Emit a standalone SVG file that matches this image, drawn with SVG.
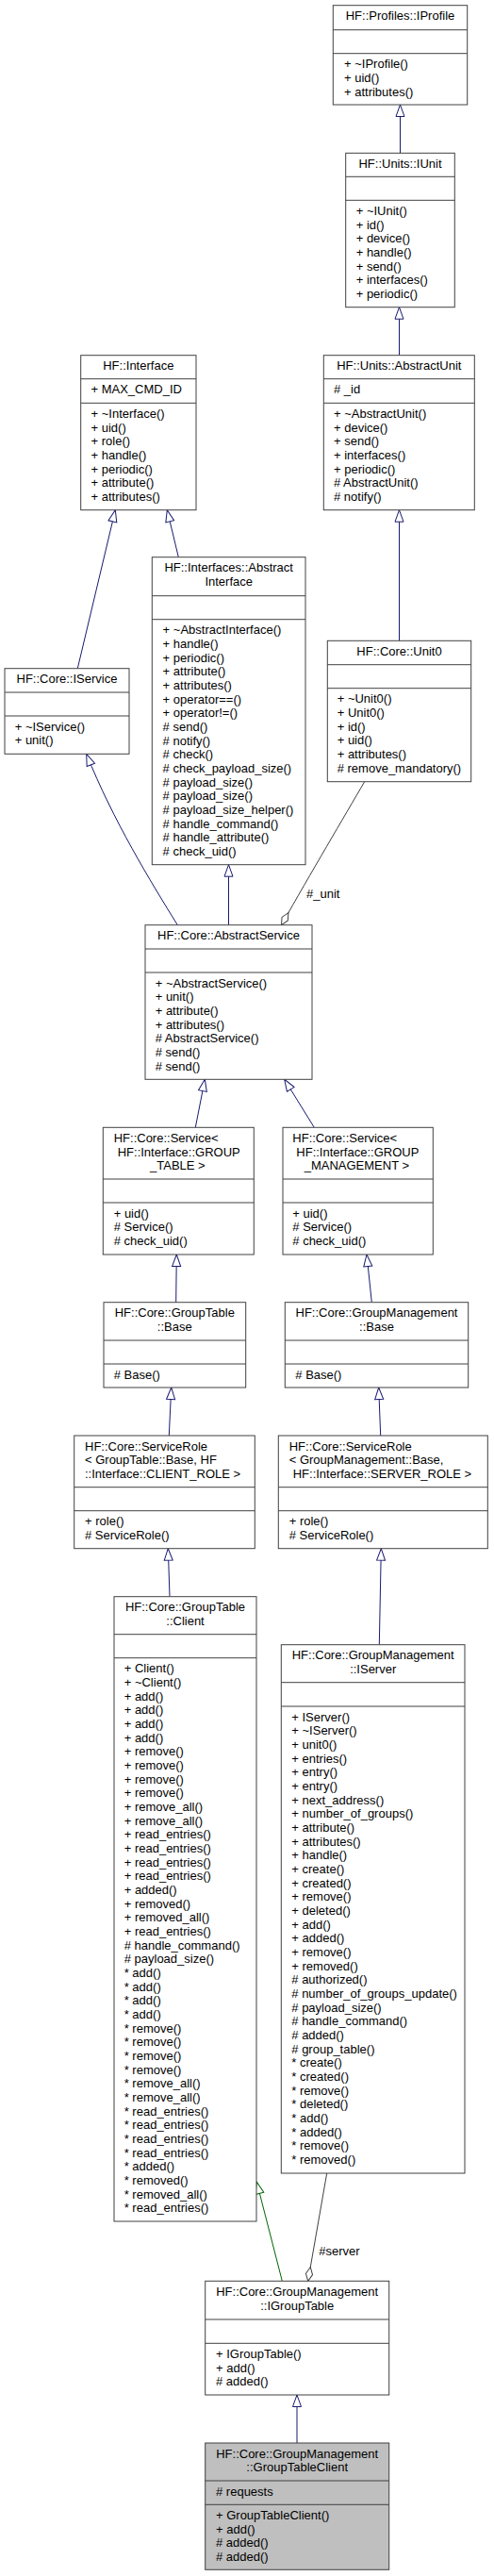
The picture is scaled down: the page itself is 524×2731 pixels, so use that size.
<svg xmlns="http://www.w3.org/2000/svg" width="524" height="2731" viewBox="0 0 524 2731">
<style>
.box{fill:#fff;stroke:#404040;stroke-width:1}
.sel{fill:#bfbfbf;stroke:#404040;stroke-width:1}
.sep{stroke:#404040;stroke-width:1}
text{font-family:"Liberation Sans",Arial,Helvetica,sans-serif;font-size:13px;fill:#000}
.c{text-anchor:middle}
.inh{fill:none;stroke:#191970;stroke-width:1;marker-end:url(#mInh)}
.prot{fill:none;stroke:#006400;stroke-width:1;marker-end:url(#mProt)}
.use{fill:none;stroke:#404040;stroke-width:1;marker-end:url(#mAgg)}
</style>
<defs>
<marker id="mInh" markerUnits="userSpaceOnUse" markerWidth="14" markerHeight="10" refX="13" refY="4.7" orient="auto" overflow="visible"><path d="M0.5,0.2 L13,4.7 L0.5,9.2 z" fill="#fff" stroke="#191970" stroke-width="1"/></marker>
<marker id="mProt" markerUnits="userSpaceOnUse" markerWidth="14" markerHeight="10" refX="13" refY="4.7" orient="auto" overflow="visible"><path d="M0.5,0.2 L13,4.7 L0.5,9.2 z" fill="#fff" stroke="#006400" stroke-width="1"/></marker>
<marker id="mAgg" markerUnits="userSpaceOnUse" markerWidth="16" markerHeight="8" refX="15" refY="3.6" orient="auto" overflow="visible"><path d="M0,3.6 L7.5,0 L15,3.6 L7.5,7.2 z" fill="#fff" stroke="#404040" stroke-width="1"/></marker>
</defs>
<rect x="0" y="0" width="524" height="2731" fill="#fff"/>

<g id="edges">
<path class="inh" d="M424.5,162.3 L424.5,111"/>
<path class="inh" d="M423.5,376.7 L423.5,325.7"/>
<path class="inh" d="M423.5,679.3 L423.5,540.7"/>
<path class="inh" d="M82.3,708.7 L122.3,540.7"/>
<path class="inh" d="M189.3,590.7 L177.3,540.7"/>
<path class="inh" d="M188.3,980.7 C160,935 120,870 91.7,799.3"/>
<path class="inh" d="M242.5,980.7 L242.5,916.7"/>
<path class="use" d="M386.7,828.7 C365,866 330,925 298.5,980.7"/>
<text x="325" y="951.5">#_unit</text>
<path class="inh" d="M207.3,1195.3 L217.3,1144.3"/>
<path class="inh" d="M333.3,1195.3 L301.7,1144.3"/>
<path class="inh" d="M186.7,1380.7 L187.3,1330"/>
<path class="inh" d="M394.3,1380.7 L389,1330"/>
<path class="inh" d="M179.3,1522 L181.7,1471"/>
<path class="inh" d="M403.7,1522 L401.7,1471"/>
<path class="inh" d="M180,1692.7 L178.3,1641.7"/>
<path class="inh" d="M402.3,1743.7 L404.3,1641.7"/>
<path class="prot" d="M299.3,2418.3 L272.3,2313.3"/>
<path class="use" d="M346.7,2304 L326.7,2418.3"/>
<text x="338.3" y="2391">#server</text>
<path class="inh" d="M315,2590 L315,2539"/>
</g>

<g id="IProfile">
<rect class="box" x="353.3" y="5.7" width="142.4" height="105.3"/>
<line class="sep" x1="353.3" y1="31.7" x2="495.7" y2="31.7"/>
<line class="sep" x1="353.3" y1="56.7" x2="495.7" y2="56.7"/>
<text class="c" x="424.5" y="21.3">HF::Profiles::IProfile</text>
<text y="72.3"><tspan x="365">+ ~IProfile()</tspan><tspan x="365" dy="14.67">+ uid()</tspan><tspan x="365" dy="14.67">+ attributes()</tspan></text>
</g>

<g id="IUnit">
<rect class="box" x="366.7" y="162.3" width="115.6" height="163.4"/>
<line class="sep" x1="366.7" y1="187.3" x2="482.3" y2="187.3"/>
<line class="sep" x1="366.7" y1="212.3" x2="482.3" y2="212.3"/>
<text class="c" x="424.5" y="177.9">HF::Units::IUnit</text>
<text y="227.9"><tspan x="377.7">+ ~IUnit()</tspan><tspan x="377.7" dy="14.67">+ id()</tspan><tspan x="377.7" dy="14.67">+ device()</tspan><tspan x="377.7" dy="14.67">+ handle()</tspan><tspan x="377.7" dy="14.67">+ send()</tspan><tspan x="377.7" dy="14.67">+ interfaces()</tspan><tspan x="377.7" dy="14.67">+ periodic()</tspan></text>
</g>

<g id="Interface">
<rect class="box" x="85.7" y="376.7" width="122.3" height="164"/>
<line class="sep" x1="85.7" y1="401.7" x2="208" y2="401.7"/>
<line class="sep" x1="85.7" y1="427.3" x2="208" y2="427.3"/>
<text class="c" x="146.8" y="392.3">HF::Interface</text>
<text x="96.5" y="417.3">+ MAX_CMD_ID</text>
<text y="442.9"><tspan x="96.5">+ ~Interface()</tspan><tspan x="96.5" dy="14.67">+ uid()</tspan><tspan x="96.5" dy="14.67">+ role()</tspan><tspan x="96.5" dy="14.67">+ handle()</tspan><tspan x="96.5" dy="14.67">+ periodic()</tspan><tspan x="96.5" dy="14.67">+ attribute()</tspan><tspan x="96.5" dy="14.67">+ attributes()</tspan></text>
</g>

<g id="AbstractUnit">
<rect class="box" x="343.3" y="376.7" width="160" height="164"/>
<line class="sep" x1="343.3" y1="401.7" x2="503.3" y2="401.7"/>
<line class="sep" x1="343.3" y1="427.3" x2="503.3" y2="427.3"/>
<text class="c" x="423.3" y="392.3">HF::Units::AbstractUnit</text>
<text x="354" y="417.3"># _id</text>
<text y="442.9"><tspan x="354">+ ~AbstractUnit()</tspan><tspan x="354" dy="14.67">+ device()</tspan><tspan x="354" dy="14.67">+ send()</tspan><tspan x="354" dy="14.67">+ interfaces()</tspan><tspan x="354" dy="14.67">+ periodic()</tspan><tspan x="354" dy="14.67"># AbstractUnit()</tspan><tspan x="354" dy="14.67"># notify()</tspan></text>
</g>

<g id="AbstractInterface">
<rect class="box" x="161.3" y="590.7" width="162.7" height="326"/>
<line class="sep" x1="161.3" y1="631.7" x2="324" y2="631.7"/>
<line class="sep" x1="161.3" y1="656.7" x2="324" y2="656.7"/>
<text class="c" x="242.7" y="606.3">HF::Interfaces::Abstract</text>
<text class="c" x="242.7" y="621">Interface</text>
<text y="672.3"><tspan x="172.6">+ ~AbstractInterface()</tspan><tspan x="172.6" dy="14.67">+ handle()</tspan><tspan x="172.6" dy="14.67">+ periodic()</tspan><tspan x="172.6" dy="14.67">+ attribute()</tspan><tspan x="172.6" dy="14.67">+ attributes()</tspan><tspan x="172.6" dy="14.67">+ operator==()</tspan><tspan x="172.6" dy="14.67">+ operator!=()</tspan><tspan x="172.6" dy="14.67"># send()</tspan><tspan x="172.6" dy="14.67"># notify()</tspan><tspan x="172.6" dy="14.67"># check()</tspan><tspan x="172.6" dy="14.67"># check_payload_size()</tspan><tspan x="172.6" dy="14.67"># payload_size()</tspan><tspan x="172.6" dy="14.67"># payload_size()</tspan><tspan x="172.6" dy="14.67"># payload_size_helper()</tspan><tspan x="172.6" dy="14.67"># handle_command()</tspan><tspan x="172.6" dy="14.67"># handle_attribute()</tspan><tspan x="172.6" dy="14.67"># check_uid()</tspan></text>
</g>

<g id="IService">
<rect class="box" x="5" y="708.7" width="132" height="90.6"/>
<line class="sep" x1="5" y1="734" x2="137" y2="734"/>
<line class="sep" x1="5" y1="759" x2="137" y2="759"/>
<text class="c" x="71" y="724.3">HF::Core::IService</text>
<text y="774.6"><tspan x="15.7">+ ~IService()</tspan><tspan x="15.7" dy="14.67">+ unit()</tspan></text>
</g>

<g id="Unit0">
<rect class="box" x="347.3" y="679.3" width="152.4" height="149.4"/>
<line class="sep" x1="347.3" y1="704.7" x2="499.7" y2="704.7"/>
<line class="sep" x1="347.3" y1="729.7" x2="499.7" y2="729.7"/>
<text class="c" x="423.5" y="694.9">HF::Core::Unit0</text>
<text y="745.3"><tspan x="357.7">+ ~Unit0()</tspan><tspan x="357.7" dy="14.67">+ Unit0()</tspan><tspan x="357.7" dy="14.67">+ id()</tspan><tspan x="357.7" dy="14.67">+ uid()</tspan><tspan x="357.7" dy="14.67">+ attributes()</tspan><tspan x="357.7" dy="14.67"># remove_mandatory()</tspan></text>
</g>

<g id="AbstractService">
<rect class="box" x="154" y="980.7" width="177" height="163.6"/>
<line class="sep" x1="154" y1="1006" x2="331" y2="1006"/>
<line class="sep" x1="154" y1="1031" x2="331" y2="1031"/>
<text class="c" x="242.5" y="996.3">HF::Core::AbstractService</text>
<text y="1046.6"><tspan x="164.7">+ ~AbstractService()</tspan><tspan x="164.7" dy="14.67">+ unit()</tspan><tspan x="164.7" dy="14.67">+ attribute()</tspan><tspan x="164.7" dy="14.67">+ attributes()</tspan><tspan x="164.7" dy="14.67"># AbstractService()</tspan><tspan x="164.7" dy="14.67"># send()</tspan><tspan x="164.7" dy="14.67"># send()</tspan></text>
</g>

<g id="ServiceGroupTable">
<rect class="box" x="109.3" y="1195.3" width="160" height="134.7"/>
<line class="sep" x1="109.3" y1="1250" x2="269.3" y2="1250"/>
<line class="sep" x1="109.3" y1="1275" x2="269.3" y2="1275"/>
<text x="120.7" y="1210.9">HF::Core::Service&lt;</text>
<text x="124.7" y="1225.6">HF::Interface::GROUP</text>
<text x="159" y="1240.3">_TABLE &gt;</text>
<text y="1290.6"><tspan x="120.7">+ uid()</tspan><tspan x="120.7" dy="14.67"># Service()</tspan><tspan x="120.7" dy="14.67"># check_uid()</tspan></text>
</g>

<g id="ServiceGroupManagement">
<rect class="box" x="300" y="1195.3" width="159.3" height="134.7"/>
<line class="sep" x1="300" y1="1250" x2="459.3" y2="1250"/>
<line class="sep" x1="300" y1="1275" x2="459.3" y2="1275"/>
<text x="310.3" y="1210.9">HF::Core::Service&lt;</text>
<text x="314.3" y="1225.6">HF::Interface::GROUP</text>
<text x="322.7" y="1240.3">_MANAGEMENT &gt;</text>
<text y="1290.6"><tspan x="310.3">+ uid()</tspan><tspan x="310.3" dy="14.67"># Service()</tspan><tspan x="310.3" dy="14.67"># check_uid()</tspan></text>
</g>

<g id="GroupTableBase">
<rect class="box" x="110" y="1380.7" width="150.7" height="90.3"/>
<line class="sep" x1="110" y1="1421" x2="260.7" y2="1421"/>
<line class="sep" x1="110" y1="1446" x2="260.7" y2="1446"/>
<text class="c" x="185.3" y="1396.3">HF::Core::GroupTable</text>
<text class="c" x="185.3" y="1411">::Base</text>
<text x="120.7" y="1461.6"># Base()</text>
</g>

<g id="GroupManagementBase">
<rect class="box" x="302.3" y="1380.7" width="194.4" height="90.3"/>
<line class="sep" x1="302.3" y1="1421" x2="496.7" y2="1421"/>
<line class="sep" x1="302.3" y1="1446" x2="496.7" y2="1446"/>
<text class="c" x="399.5" y="1396.3">HF::Core::GroupManagement</text>
<text class="c" x="399.5" y="1411">::Base</text>
<text x="313.3" y="1461.6"># Base()</text>
</g>

<g id="ServiceRoleClient">
<rect class="box" x="78.7" y="1522" width="191.6" height="119.7"/>
<line class="sep" x1="78.7" y1="1576.7" x2="270.3" y2="1576.7"/>
<line class="sep" x1="78.7" y1="1601.7" x2="270.3" y2="1601.7"/>
<text x="90" y="1537.6">HF::Core::ServiceRole</text>
<text x="90" y="1552.3">&lt; GroupTable::Base, HF</text>
<text x="90" y="1567">::Interface::CLIENT_ROLE &gt;</text>
<text y="1617.3"><tspan x="90">+ role()</tspan><tspan x="90" dy="14.67"># ServiceRole()</tspan></text>
</g>

<g id="ServiceRoleServer">
<rect class="box" x="295.3" y="1522" width="222" height="119.7"/>
<line class="sep" x1="295.3" y1="1576.7" x2="517.3" y2="1576.7"/>
<line class="sep" x1="295.3" y1="1601.7" x2="517.3" y2="1601.7"/>
<text x="306.7" y="1537.6">HF::Core::ServiceRole</text>
<text x="306.7" y="1552.3">&lt; GroupManagement::Base,</text>
<text x="310.7" y="1567">HF::Interface::SERVER_ROLE &gt;</text>
<text y="1617.3"><tspan x="306.7">+ role()</tspan><tspan x="306.7" dy="14.67"># ServiceRole()</tspan></text>
</g>

<g id="GroupTableClientBase">
<rect class="box" x="121" y="1692.7" width="151" height="662.3"/>
<line class="sep" x1="121" y1="1732.7" x2="272" y2="1732.7"/>
<line class="sep" x1="121" y1="1757.7" x2="272" y2="1757.7"/>
<text class="c" x="196.5" y="1708.3">HF::Core::GroupTable</text>
<text class="c" x="196.5" y="1723">::Client</text>
<text y="1773.3"><tspan x="131.7">+ Client()</tspan><tspan x="131.7" dy="14.67">+ ~Client()</tspan><tspan x="131.7" dy="14.67">+ add()</tspan><tspan x="131.7" dy="14.67">+ add()</tspan><tspan x="131.7" dy="14.67">+ add()</tspan><tspan x="131.7" dy="14.67">+ add()</tspan><tspan x="131.7" dy="14.67">+ remove()</tspan><tspan x="131.7" dy="14.67">+ remove()</tspan><tspan x="131.7" dy="14.67">+ remove()</tspan><tspan x="131.7" dy="14.67">+ remove()</tspan><tspan x="131.7" dy="14.67">+ remove_all()</tspan><tspan x="131.7" dy="14.67">+ remove_all()</tspan><tspan x="131.7" dy="14.67">+ read_entries()</tspan><tspan x="131.7" dy="14.67">+ read_entries()</tspan><tspan x="131.7" dy="14.67">+ read_entries()</tspan><tspan x="131.7" dy="14.67">+ read_entries()</tspan><tspan x="131.7" dy="14.67">+ added()</tspan><tspan x="131.7" dy="14.67">+ removed()</tspan><tspan x="131.7" dy="14.67">+ removed_all()</tspan><tspan x="131.7" dy="14.67">+ read_entries()</tspan><tspan x="131.7" dy="14.67"># handle_command()</tspan><tspan x="131.7" dy="14.67"># payload_size()</tspan><tspan x="131.7" dy="14.67">* add()</tspan><tspan x="131.7" dy="14.67">* add()</tspan><tspan x="131.7" dy="14.67">* add()</tspan><tspan x="131.7" dy="14.67">* add()</tspan><tspan x="131.7" dy="14.67">* remove()</tspan><tspan x="131.7" dy="14.67">* remove()</tspan><tspan x="131.7" dy="14.67">* remove()</tspan><tspan x="131.7" dy="14.67">* remove()</tspan><tspan x="131.7" dy="14.67">* remove_all()</tspan><tspan x="131.7" dy="14.67">* remove_all()</tspan><tspan x="131.7" dy="14.67">* read_entries()</tspan><tspan x="131.7" dy="14.67">* read_entries()</tspan><tspan x="131.7" dy="14.67">* read_entries()</tspan><tspan x="131.7" dy="14.67">* read_entries()</tspan><tspan x="131.7" dy="14.67">* added()</tspan><tspan x="131.7" dy="14.67">* removed()</tspan><tspan x="131.7" dy="14.67">* removed_all()</tspan><tspan x="131.7" dy="14.67">* read_entries()</tspan></text>
</g>

<g id="IServer">
<rect class="box" x="298.3" y="1743.7" width="194.7" height="560.3"/>
<line class="sep" x1="298.3" y1="1783.7" x2="493" y2="1783.7"/>
<line class="sep" x1="298.3" y1="1809" x2="493" y2="1809"/>
<text class="c" x="395.7" y="1759.3">HF::Core::GroupManagement</text>
<text class="c" x="395.7" y="1774">::IServer</text>
<text y="1824.6"><tspan x="309.3">+ IServer()</tspan><tspan x="309.3" dy="14.67">+ ~IServer()</tspan><tspan x="309.3" dy="14.67">+ unit0()</tspan><tspan x="309.3" dy="14.67">+ entries()</tspan><tspan x="309.3" dy="14.67">+ entry()</tspan><tspan x="309.3" dy="14.67">+ entry()</tspan><tspan x="309.3" dy="14.67">+ next_address()</tspan><tspan x="309.3" dy="14.67">+ number_of_groups()</tspan><tspan x="309.3" dy="14.67">+ attribute()</tspan><tspan x="309.3" dy="14.67">+ attributes()</tspan><tspan x="309.3" dy="14.67">+ handle()</tspan><tspan x="309.3" dy="14.67">+ create()</tspan><tspan x="309.3" dy="14.67">+ created()</tspan><tspan x="309.3" dy="14.67">+ remove()</tspan><tspan x="309.3" dy="14.67">+ deleted()</tspan><tspan x="309.3" dy="14.67">+ add()</tspan><tspan x="309.3" dy="14.67">+ added()</tspan><tspan x="309.3" dy="14.67">+ remove()</tspan><tspan x="309.3" dy="14.67">+ removed()</tspan><tspan x="309.3" dy="14.67"># authorized()</tspan><tspan x="309.3" dy="14.67"># number_of_groups_update()</tspan><tspan x="309.3" dy="14.67"># payload_size()</tspan><tspan x="309.3" dy="14.67"># handle_command()</tspan><tspan x="309.3" dy="14.67"># added()</tspan><tspan x="309.3" dy="14.67"># group_table()</tspan><tspan x="309.3" dy="14.67">* create()</tspan><tspan x="309.3" dy="14.67">* created()</tspan><tspan x="309.3" dy="14.67">* remove()</tspan><tspan x="309.3" dy="14.67">* deleted()</tspan><tspan x="309.3" dy="14.67">* add()</tspan><tspan x="309.3" dy="14.67">* added()</tspan><tspan x="309.3" dy="14.67">* remove()</tspan><tspan x="309.3" dy="14.67">* removed()</tspan></text>
</g>

<g id="IGroupTable">
<rect class="box" x="217.7" y="2418.3" width="195" height="120.7"/>
<line class="sep" x1="217.7" y1="2459" x2="412.7" y2="2459"/>
<line class="sep" x1="217.7" y1="2484.3" x2="412.7" y2="2484.3"/>
<text class="c" x="315.2" y="2433.9">HF::Core::GroupManagement</text>
<text class="c" x="315.2" y="2448.6">::IGroupTable</text>
<text y="2499.9"><tspan x="229">+ IGroupTable()</tspan><tspan x="229" dy="14.67">+ add()</tspan><tspan x="229" dy="14.67"># added()</tspan></text>
</g>

<g id="GroupTableClient">
<rect class="sel" x="217.7" y="2590" width="195" height="134.3"/>
<line class="sep" x1="217.7" y1="2630" x2="412.7" y2="2630"/>
<line class="sep" x1="217.7" y1="2655.3" x2="412.7" y2="2655.3"/>
<text class="c" x="315.2" y="2605.6">HF::Core::GroupManagement</text>
<text class="c" x="315.2" y="2620.3">::GroupTableClient</text>
<text x="229" y="2645.6"># requests</text>
<text y="2670.9"><tspan x="229">+ GroupTableClient()</tspan><tspan x="229" dy="14.67">+ add()</tspan><tspan x="229" dy="14.67"># added()</tspan><tspan x="229" dy="14.67"># added()</tspan></text>
</g>
</svg>
